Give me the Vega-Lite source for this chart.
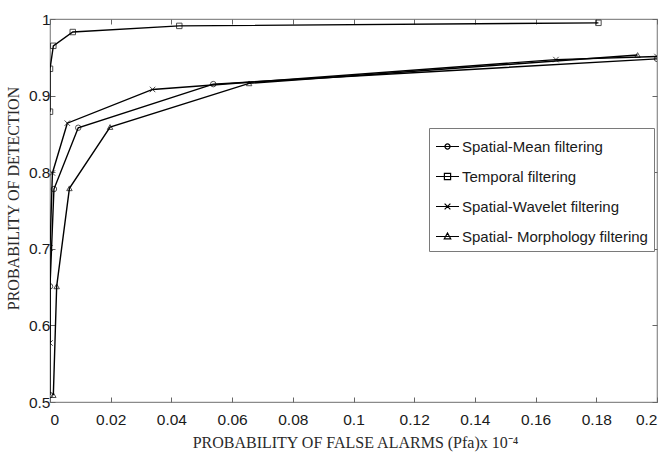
{
  "$schema": "https://vega.github.io/schema/vega-lite/v6.json",
  "width": 607,
  "height": 383,
  "autosize": {"type": "none"},
  "padding": {"left": 50, "top": 19, "right": 15, "bottom": 53},
  "background": "white",
  "config": {
    "view": {"stroke": "#8a8a8a", "strokeWidth": 1.2},
    "axis": {
      "grid": false,
      "domain": false,
      "tickColor": "#666",
      "tickSize": -5,
      "labelFont": "Liberation Sans, Arial, sans-serif",
      "labelFontSize": 15.5,
      "labelColor": "#1a1a1a",
      "titleFont": "Liberation Serif, Times New Roman, serif",
      "titleFontWeight": "normal",
      "titleFontSize": 16,
      "titleColor": "#2a2a2a"
    }
  },
  "datasets": {
    "roc": [
      {"series": "Spatial-Mean filtering", "pfa": 0.0, "pd": 0.509},
      {"series": "Spatial-Mean filtering", "pfa": 0.0, "pd": 0.651},
      {"series": "Spatial-Mean filtering", "pfa": 0.0013, "pd": 0.778},
      {"series": "Spatial-Mean filtering", "pfa": 0.0093, "pd": 0.858},
      {"series": "Spatial-Mean filtering", "pfa": 0.0538, "pd": 0.915},
      {"series": "Spatial-Mean filtering", "pfa": 0.2, "pd": 0.948},
      {"series": "Temporal filtering", "pfa": 0.0, "pd": 0.879},
      {"series": "Temporal filtering", "pfa": 0.0, "pd": 0.935},
      {"series": "Temporal filtering", "pfa": 0.0011, "pd": 0.965},
      {"series": "Temporal filtering", "pfa": 0.0075, "pd": 0.983},
      {"series": "Temporal filtering", "pfa": 0.0426, "pd": 0.991},
      {"series": "Temporal filtering", "pfa": 0.1807, "pd": 0.995},
      {"series": "Spatial-Wavelet filtering", "pfa": 0.0, "pd": 0.577},
      {"series": "Spatial-Wavelet filtering", "pfa": 0.0, "pd": 0.701},
      {"series": "Spatial-Wavelet filtering", "pfa": 0.0008, "pd": 0.799},
      {"series": "Spatial-Wavelet filtering", "pfa": 0.0057, "pd": 0.864},
      {"series": "Spatial-Wavelet filtering", "pfa": 0.0338, "pd": 0.908},
      {"series": "Spatial-Wavelet filtering", "pfa": 0.1667, "pd": 0.947},
      {"series": "Spatial-Wavelet filtering", "pfa": 0.2, "pd": 0.951},
      {"series": "Spatial- Morphology filtering", "pfa": 0.0011, "pd": 0.509},
      {"series": "Spatial- Morphology filtering", "pfa": 0.0022, "pd": 0.651},
      {"series": "Spatial- Morphology filtering", "pfa": 0.0064, "pd": 0.779},
      {"series": "Spatial- Morphology filtering", "pfa": 0.0198, "pd": 0.859},
      {"series": "Spatial- Morphology filtering", "pfa": 0.0656, "pd": 0.916},
      {"series": "Spatial- Morphology filtering", "pfa": 0.1936, "pd": 0.953}
    ]
  },
  "data": {"name": "roc"},
  "layer": [
    {
      "mark": {"type": "line", "stroke": "black", "strokeWidth": 1.4, "clip": true},
      "encoding": {
        "x": {
          "field": "pfa", "type": "quantitative",
          "scale": {"domain": [0, 0.2], "nice": false, "zero": false},
          "axis": {
            "values": [0, 0.02, 0.04, 0.06, 0.08, 0.1, 0.12, 0.14, 0.16, 0.18, 0.2],
            "format": "~g",
            "labelPadding": 15,
            "title": "PROBABILITY OF FALSE ALARMS (Pfa)x 10⁻⁴",
            "titleX": 305,
            "titleY": 40,
            "titleBaseline": "middle"
          }
        },
        "y": {
          "field": "pd", "type": "quantitative",
          "scale": {"domain": [0.5, 1], "nice": false, "zero": false},
          "axis": {
            "values": [0.5, 0.6, 0.7, 0.8, 0.9, 1],
            "format": "~g",
            "labelPadding": 5,
            "title": "PROBABILITY OF DETECTION",
            "titleX": -37,
            "titleY": 179,
            "titleBaseline": "middle"
          }
        },
        "detail": {"field": "series"},
        "order": {"field": "pd", "type": "quantitative"}
      }
    },
    {
      "mark": {"type": "point", "filled": false, "stroke": "black", "strokeWidth": 1, "clip": true},
      "encoding": {
        "x": {"field": "pfa", "type": "quantitative",
          "axis": {"orient": "top", "values": [0, 0.02, 0.04, 0.06, 0.08, 0.1, 0.12, 0.14, 0.16, 0.18, 0.2], "labels": false, "title": null}},
        "y": {"field": "pd", "type": "quantitative",
          "axis": {"orient": "right", "values": [0.5, 0.6, 0.7, 0.8, 0.9, 1], "labels": false, "title": null}},
        "shape": {
          "field": "series", "type": "nominal",
          "scale": {
            "domain": ["Spatial-Mean filtering", "Temporal filtering", "Spatial-Wavelet filtering", "Spatial- Morphology filtering"],
            "range": ["circle", "square", "M-1,-1L1,1M-1,1L1,-1", "triangle-up"]
          },
          "legend": null
        },
        "size": {"value": 30}
      }
    },
    {
      "mark": {"type": "point", "filled": false, "opacity": 0, "clip": true},
      "encoding": {
        "x": {"field": "pfa", "type": "quantitative", "axis": null},
        "y": {"field": "pd", "type": "quantitative", "axis": null},
        "shape": {
          "field": "series", "type": "nominal",
          "scale": {
            "domain": ["Spatial-Mean filtering", "Temporal filtering", "Spatial-Wavelet filtering", "Spatial- Morphology filtering"],
            "range": [
              "M-1,0H1M0.22,0A0.22,0.22 0 1,1 -0.22,0A0.22,0.22 0 1,1 0.22,0",
              "M-1,0H1M-0.27,-0.27H0.27V0.27H-0.27Z",
              "M-1,0H1M-0.25,-0.25L0.25,0.25M-0.25,0.25L0.25,-0.25",
              "M-1,0H1M0,-0.3L0.28,0.2H-0.28Z"
            ]
          },
          "legend": {
            "orient": "none",
            "legendX": 379,
            "legendY": 109,
            "title": null,
            "symbolSize": 529,
            "symbolStrokeColor": "black",
            "symbolFillColor": "white",
            "symbolStrokeWidth": 1.2,
            "symbolOpacity": 1,
            "labelFont": "Liberation Sans, Arial, sans-serif",
            "labelFontSize": 15,
            "labelColor": "#1a1a1a",
            "labelOffset": 2,
            "labelLimit": 400,
            "rowPadding": 9,
            "padding": 6,
            "strokeColor": "#7a7a7a",
            "fillColor": "white"
          }
        }
      }
    }
  ],
  "resolve": {
    "scale": {"shape": "independent"},
    "legend": {"shape": "independent"},
    "axis": {"x": "independent", "y": "independent"}
  }
}
